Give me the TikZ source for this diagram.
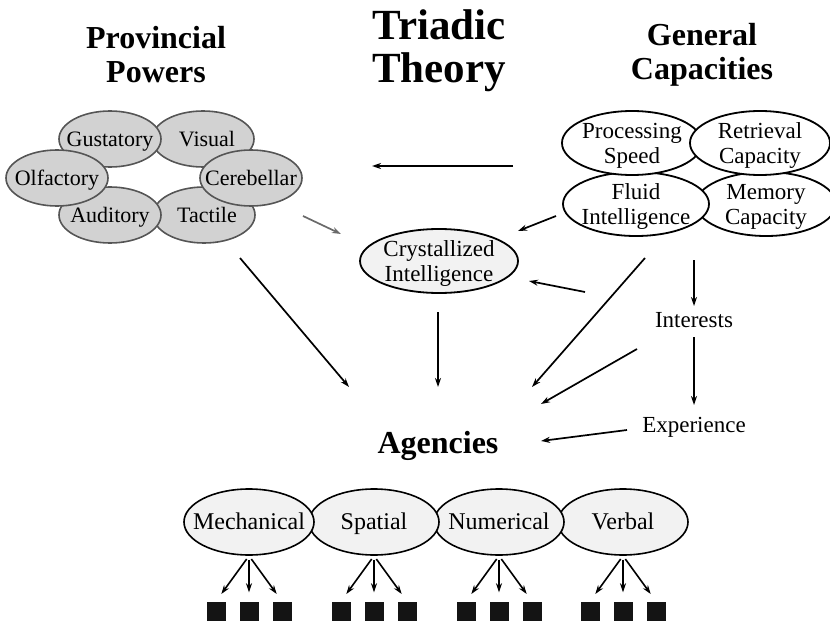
\documentclass[tikz,border=0pt]{standalone}
\usepackage{fontspec}
\setmainfont{Liberation Serif}
\usetikzlibrary{shapes.geometric,arrows.meta}
\definecolor{ppfill}{HTML}{D2D2D2}
\definecolor{ppline}{HTML}{555555}
\definecolor{lightfill}{HTML}{F2F2F2}
\definecolor{grayarrow}{HTML}{6A6A6A}
\begin{document}
\begin{tikzpicture}[x=1pt,y=-1pt,
  txt/.style={font=\fontsize{23}{25}\selectfont, align=center, inner sep=0pt},
  oneline/.style={txt, text height=17.5pt, text depth=2.4pt},
  smalltxt/.style={oneline, font=\fontsize{22}{25}\selectfont},
  bigtxt/.style={oneline, font=\fontsize{24}{25}\selectfont},
  % ellipses keep a fixed size; their text sits in a centred label
  ppbox/.style={ellipse, draw=ppline, fill=ppfill, line width=1.6pt, inner sep=0pt,
                minimum width=102pt, minimum height=56pt,
                label={[smalltxt]center:{#1}}},
  gcbox/.style={ellipse, draw=black, fill=white, line width=1.8pt, inner sep=0pt,
                minimum width=140pt, minimum height=64pt,
                label={[txt, yshift=-3pt]center:{#1}}},
  agbox/.style={ellipse, draw=black, fill=lightfill, line width=1.6pt, inner sep=0pt,
                minimum width=130pt, minimum height=66pt,
                label={[bigtxt]center:{#1}}},
  ttl/.style={font=\bfseries\fontsize{32}{34}\selectfont, align=center, inner sep=0pt},
  arr/.style={-{Stealth[length=9pt,width=6pt]}, line width=1.7pt},
  thickarr/.style={arr, line width=2.4pt},
  sqr/.style={fill=black!92, minimum size=19pt, inner sep=0pt}
]
\clip (0,0) rectangle (830,623);
\useasboundingbox (0,0) rectangle (830,623);

% titles
\node[ttl] (tpp) at (156,55) {Provincial\\Powers};
\node[ttl, font=\bfseries\fontsize{43}{43}\selectfont] (ttt) at (439,51) {Triadic\\Theory};
\node[ttl] (tgc) at (702,55) {General\\Capacities};

% provincial powers
\node[ppbox={\hspace*{8pt}Visual}] (vis) at (203,139) {};
\node[ppbox={\hspace*{6pt}Tactile}] (tac) at (204,215) {};
\node[ppbox={Gustatory}] (gus) at (110,139) {};
\node[ppbox={Auditory}] (aud) at (110,215) {};
\node[ppbox={Olfactory}] (olf) at (57,178) {};
\node[ppbox={Cerebellar}] (cer) at (251,178) {};

% general capacities
\node[gcbox={Memory\\Capacity}] (mc) at (766,204) {};
\node[gcbox={Fluid\\Intelligence}, minimum width=146pt] (fi) at (636,204) {};
\node[gcbox={Processing\\Speed}] (ps) at (632,143) {};
\node[gcbox={Retrieval\\Capacity}] (rc) at (760,143) {};

% crystallized intelligence
\node[ellipse, draw=black, fill=lightfill, line width=1.8pt, inner sep=0pt,
      minimum width=158pt, minimum height=64pt,
      label={[txt, yshift=-3pt]center:{Crystallized\\Intelligence}}] (ci) at (439,261) {};

% interests, experience, agencies
\node[oneline] (int) at (694,320) {Interests};
\node[oneline] (exp) at (694,425) {Experience};
\node[ttl] (ag) at (438,446) {Agencies};

% agency factors
\node[agbox={Verbal}] (verb) at (623,522) {};
\node[agbox={Numerical}] (num) at (499,522) {};
\node[agbox={Spatial}] (spat) at (374,522) {};
\node[agbox={Mechanical}] (mech) at (249,522) {};

% indicators under each factor
\foreach \f in {mech,spat,num,verb}{
  \foreach \k/\d in {1/-33,2/0,3/33}{
    \node[sqr] (\f\k) at ([xshift=\d pt, yshift=-89pt]\f.center) {};
    \draw[arr, line width=1.6pt, shorten <=4pt, shorten >=9pt] (\f.south) -- (\f\k.north);
  }
}

% arrow end points
\coordinate (hA) at (513,166); \coordinate (hB) at (372,166);
\coordinate (gA) at (303,216); \coordinate (gB) at (341,234);
\coordinate (fA) at (556,216); \coordinate (fB) at (518,231);
\coordinate (cA) at (585,292); \coordinate (cB) at (529,281);
\coordinate (dA) at (438,312); \coordinate (dB) at (438,387);
\coordinate (pA) at (240,258); \coordinate (pB) at (349,387);
\coordinate (lA) at (645,258); \coordinate (lB) at (532,387);
\coordinate (iA) at (637,349); \coordinate (iB) at (541,404);
\coordinate (eA) at (627,430); \coordinate (eB) at (541,441);
\coordinate (uA) at (694,260); \coordinate (uB) at (694,306);
\coordinate (vA) at (694,337); \coordinate (vB) at (694,405);

\draw[thickarr, line width=2.8pt] (hA) -- (hB);
\draw[arr, draw=grayarrow] (gA) -- (gB);
\draw[arr] (fA) -- (fB);
\draw[arr] (cA) -- (cB);
\draw[arr] (dA) -- (dB);
\draw[arr] (pA) -- (pB);
\draw[arr] (lA) -- (lB);
\draw[arr] (iA) -- (iB);
\draw[arr] (eA) -- (eB);
\draw[thickarr] (uA) -- (uB);
\draw[thickarr] (vA) -- (vB);
\end{tikzpicture}
\end{document}
